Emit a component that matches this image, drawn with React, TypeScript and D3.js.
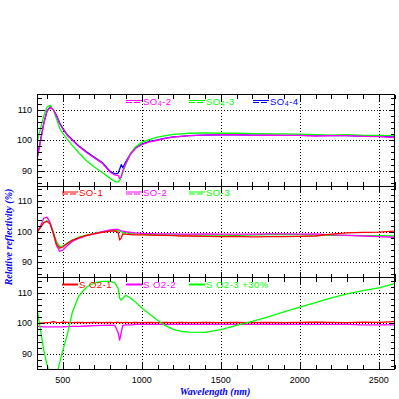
import React from 'react';
import * as d3 from 'd3';

// Wavelength grid (nm)
const wl = [340, 360, 380, 400, 420, 440, 460, 480, 500, 530, 560, 600, 650, 700, 750, 800, 830, 850, 860, 870, 880, 900, 930, 960, 1000, 1050, 1100, 1150, 1200, 1250, 1300, 1400, 1500, 1600, 1700, 1800, 1900, 2000, 2100, 2200, 2300, 2400, 2500, 2600];

// Panel 1
const so4_2 = [94.5, 100, 105.5, 109.5, 110.8, 110, 108, 105.5, 103.7, 101.5, 100, 98, 96, 94.2, 92.5, 89.5, 88.6, 88.5, 87.5, 88, 90, 92.5, 95.5, 97.3, 98.6, 99.5, 100, 100.6, 101, 101.3, 101.5, 101.7, 101.8, 101.8, 101.6, 101.7, 101.6, 101.6, 101.4, 101.5, 101.5, 101.3, 101.2, 100.9];
const so4_3 = [100, 104, 108, 110.8, 111.5, 110, 107, 104, 102.3, 100.2, 98.3, 96, 93.3, 91.2, 89.4, 87.5, 86.5, 86.3, 86.8, 88, 89.5, 92.2, 95.8, 97.8, 99.3, 100.3, 101, 101.5, 101.9, 102.1, 102.3, 102.4, 102.3, 102.3, 102.2, 102.1, 102.1, 102, 101.8, 101.7, 101.8, 101.6, 101.6, 101.5];
const so4_4 = [94.8, 100.2, 105.7, 109.6, 110.9, 110.1, 108.2, 105.7, 103.9, 101.7, 100.2, 98.2, 96.2, 94.4, 92.7, 89.8, 89, 89.2, 90.5, 92, 91, 93, 95.7, 97.5, 98.7, 99.6, 100.1, 100.7, 101.1, 101.3, 101.5, 101.7, 101.8, 101.8, 101.7, 101.7, 101.6, 101.6, 101.5, 101.5, 101.5, 101.4, 101.3, 101.1];

// Panel 2
const so_1 = [100, 101.5, 103, 103.4, 102.5, 99.5, 96, 94.6, 95, 96.2, 97.2, 98, 98.8, 99.3, 99.8, 100.2, 100.3, 99.8, 97.3, 98, 99.3, 99.2, 99.1, 99, 99, 98.9, 98.8, 98.8, 98.7, 98.6, 98.6, 98.5, 98.4, 98.5, 98.3, 98.4, 98.4, 98.5, 98.6, 99.2, 99.6, 99.8, 99.9, 100.2];
const so_2 = [100, 102, 104.5, 104.8, 103, 99.5, 95.5, 93.6, 94, 95.5, 96.8, 97.8, 98.7, 99.4, 100, 100.6, 100.8, 100.8, 100.5, 100.3, 100.2, 100, 99.8, 99.6, 99.5, 99.4, 99.3, 99.3, 99.3, 99.2, 99.2, 99.3, 99.2, 99.2, 99.2, 99.3, 99.3, 99.2, 99.3, 99, 98.8, 98.6, 98.4, 98.2];
const so_3 = [100, 101.5, 103, 103.6, 102.8, 100, 96.8, 95.2, 95.3, 96.3, 97.3, 98.2, 98.9, 99.5, 100, 100.4, 100.5, 100.4, 100.2, 100, 99.8, 99.6, 99.4, 99.3, 99.2, 99.1, 99, 99, 99, 99, 99, 98.9, 98.9, 98.8, 99, 99.1, 99.1, 99.1, 98.9, 98.8, 98.8, 98.7, 98.7, 98.6];

// Panel 3
const so2_1 = [99.8, 100, 100.1, 100.2, 100.3, 100.5, 100.3, 100.2, 100.4, 100.3, 100.2, 100.3, 100.2, 100.3, 100.2, 100.3, 100.2, 100.4, 100.1, 100.3, 100.2, 100.3, 100.2, 100.3, 100.2, 100.3, 100.2, 100.3, 100.2, 100.3, 100.2, 100.3, 100.2, 100.3, 100.2, 100.3, 100.2, 100.3, 100.4, 100.3, 100.2, 100.4, 100.3, 100.5];
const so2_2 = [99, 98.9, 98.8, 98.8, 98.8, 98.8, 98.8, 98.8, 98.8, 98.9, 99, 99, 99.1, 99.2, 99.3, 99.4, 99.3, 97, 94.5, 97, 99.3, 99.5, 99.5, 99.6, 99.6, 99.6, 99.6, 99.6, 99.6, 99.6, 99.6, 99.6, 99.6, 99.6, 99.6, 99.6, 99.6, 99.6, 99.6, 99.6, 99.6, 99.5, 99.5, 99.5];
const so2_3 = [103.8, 97.5, 91, 86.5, 83, 81, 82.5, 87, 91, 96.5, 103.5, 108.8, 111.8, 113.2, 113.7, 113.7, 113.2, 111.5, 108.2, 107.6, 108.2, 109.2, 108.2, 107, 105, 103, 101, 99.2, 98, 97.3, 97.1, 97, 97.9, 99.3, 100.6, 102.1, 103.7, 105.3, 106.8, 108.3, 109.6, 110.7, 111.6, 113];

const xTickLabels = [500, 1000, 1500, 2000, 2500];
const yTickLabels = [90, 100, 110];

const RED = '#ff0000', MAG = '#ff00ff', GRN = '#00ff00', BLU = '#0000ff';

const panels = [
  {
    draw: [{ v: so4_4, c: BLU }, { v: so4_3, c: GRN }, { v: so4_2, c: MAG }],
    legend: [
      { pre: 'SO', sub: '4', post: '-2', c: MAG },
      { pre: 'SO', sub: '4', post: '-3', c: GRN },
      { pre: 'SO', sub: '4', post: '-4', c: BLU },
    ],
    legendX: [126, 189, 253],
    thick: false,
  },
  {
    draw: [{ v: so_3, c: GRN }, { v: so_2, c: MAG }, { v: so_1, c: RED }],
    legend: [
      { pre: 'SO-1', c: RED },
      { pre: 'SO-2', c: MAG },
      { pre: 'SO-3', c: GRN },
    ],
    legendX: [62, 126, 189],
    thick: false,
  },
  {
    draw: [{ v: so2_2, c: MAG }, { v: so2_1, c: RED }, { v: so2_3, c: GRN }],
    legend: [
      { pre: 'S O2-1', c: RED },
      { pre: 'S O2-2', c: MAG },
      { pre: 'S O2-3 +30%', c: GRN },
    ],
    legendX: [62, 126, 189],
    thick: true,
  },
];

const LEFT = 37.5, RIGHT = 394.5;
const TOPS = [94.5, 186, 277.5];
const PH = 91.5;

export default function App() {
  const x = d3.scaleLinear().domain([340, 2600]).range([LEFT, RIGHT]);
  const xMinor = d3.range(400, 2601, 100);
  const yMinor = d3.range(86, 115, 2);
  const font = "'Liberation Sans', Arial, sans-serif";
  const tfont = "'Liberation Serif', serif";

  return (
    <svg width={399} height={399} style={{ position: 'absolute', left: 0, top: 0, background: '#fff' }}>
      <rect x={0} y={0} width={399} height={399} fill="#fff" />
      <defs>
        {panels.map((p, i) => (
          <clipPath id={`clip${i}`} key={i}>
            <rect x={LEFT} y={TOPS[i]} width={RIGHT - LEFT} height={PH} />
          </clipPath>
        ))}
      </defs>
      {panels.map((p, i) => {
        const top = TOPS[i];
        const y = d3.scaleLinear().domain([85, 115]).range([top + PH, top]);
        const line = d3.line<number>().x((_, k) => x(wl[k])).y((d) => y(d));
        const bottom = top + PH;
        return (
          <g key={i}>
            {/* grid */}
            <g stroke="#000" strokeWidth={1} strokeDasharray="1,2" shapeRendering="crispEdges">
              {xTickLabels.map((t) => (
                <line key={'gx' + t} x1={Math.round(x(t)) + 0.5} x2={Math.round(x(t)) + 0.5} y1={top} y2={bottom} />
              ))}
              {yTickLabels.map((t) => (
                <line key={'gy' + t} x1={LEFT} x2={RIGHT} y1={Math.round(y(t)) + 0.5} y2={Math.round(y(t)) + 0.5} />
              ))}
            </g>
            {/* data */}
            <g clipPath={`url(#clip${i})`} fill="none" strokeWidth={1.3} strokeLinejoin="round">
              {p.draw.map((s, k) => (
                <path key={k} d={line(s.v) || ''} stroke={s.c} />
              ))}
            </g>
            {/* frame & ticks */}
            <g stroke="#000" strokeWidth={1} shapeRendering="crispEdges">
              <rect x={LEFT} y={top} width={RIGHT - LEFT} height={PH} fill="none" />
              {xMinor.map((t) => {
                const len = t % 500 === 0 ? 6 : 4;
                const xx = Math.round(x(t)) + 0.5;
                return (
                  <g key={'xt' + t}>
                    <line x1={xx} x2={xx} y1={bottom} y2={bottom - len} />
                    <line x1={xx} x2={xx} y1={top} y2={top + len} />
                  </g>
                );
              })}
              {yMinor.map((t) => {
                const len = t % 10 === 0 ? 6 : 4;
                const yy = Math.round(y(t)) + 0.5;
                return (
                  <g key={'yt' + t}>
                    <line x1={LEFT} x2={LEFT + len} y1={yy} y2={yy} />
                    <line x1={RIGHT} x2={RIGHT - len} y1={yy} y2={yy} />
                  </g>
                );
              })}
            </g>
            {/* y tick labels */}
            {yTickLabels.map((t) => (
              <text key={'yl' + t} x={32} y={y(t) + 3.2} textAnchor="end" fontFamily={font} fontSize={9} fill="#000">
                {t}
              </text>
            ))}
            {/* legend */}
            {p.legend.map((l, k) => {
              const lx = p.legendX[k];
              const ly = top + 7;
              return (
                <g key={'lg' + k}>
                  {p.thick ? (
                    <line x1={lx} x2={lx + 16} y1={ly} y2={ly} stroke={l.c} strokeWidth={2} />
                  ) : (
                    <g stroke={l.c} strokeWidth={1}>
                      <line x1={lx} x2={lx + 16} y1={ly - 1} y2={ly - 1} />
                      <line x1={lx} x2={lx + 16} y1={ly + 1} y2={ly + 1} strokeDasharray="6,2" />
                    </g>
                  )}
                  <text x={lx + 17} y={ly + 3} fontFamily={font} fontSize={9.5} letterSpacing={0.5} fill={l.c}>
                    {l.pre}
                    {l.sub ? <tspan fontSize={7} dy={1}>{l.sub}</tspan> : null}
                    {l.post ? <tspan dy={l.sub ? -1 : 0}>{l.post}</tspan> : null}
                  </text>
                </g>
              );
            })}
          </g>
        );
      })}
      {/* x tick labels */}
      {xTickLabels.map((t) => (
        <text key={'xl' + t} x={x(t)} y={383} textAnchor="middle" fontFamily={font} fontSize={9} fill="#000">
          {t}
        </text>
      ))}
      <text x={215} y={395} textAnchor="middle" fontFamily={tfont} fontWeight="bold" fontStyle="italic" fontSize={10} fill="#0000ff">
        Wavelength (nm)
      </text>
      <text transform="translate(12,237) rotate(-90)" textAnchor="middle" fontFamily={tfont} fontWeight="bold" fontStyle="italic" fontSize={10} fill="#0000ff">
        Relative reflectivity (%)
      </text>
    </svg>
  );
}
